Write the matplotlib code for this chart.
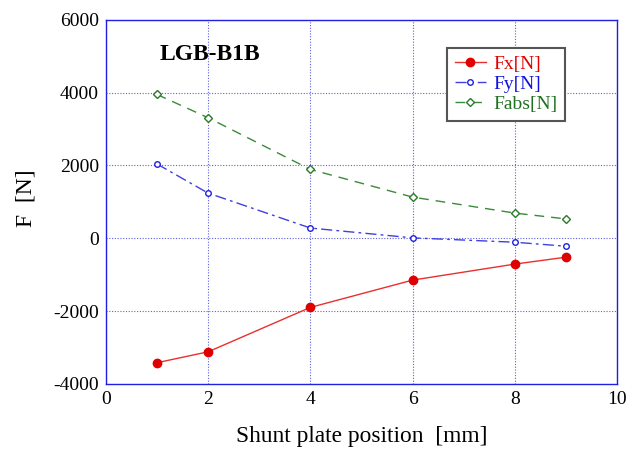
import matplotlib
matplotlib.use("Agg")
import matplotlib.pyplot as plt

x = [1, 2, 4, 6, 8, 9]
fx = [-3420, -3120, -1900, -1150, -710, -520]
fy = [2040, 1240, 280, 10, -110, -220]
fabs = [3950, 3310, 1890, 1130, 690, 530]

xticks = [0, 2, 4, 6, 8, 10]
yticks = [-4000, -2000, 0, 2000, 4000, 6000]

plt.rcParams['font.family'] = ['Liberation Serif', 'DejaVu Serif']
plt.rcParams['axes.unicode_minus'] = False

fig = plt.figure(figsize=(6.26, 4.5), dpi=100)
ax = fig.add_axes([0.169, 0.147, 0.817, 0.809])

ax.plot(x, fx, '-', color='#e83030', lw=1.0, marker='o', ms=6,
        mfc='#e00000', mec='#e00000', label='Fx[N]')
ax.plot(x, fy, '-.', color='#4040e0', lw=1.0, marker='o', ms=4,
        mfc='white', mec='#2020e0', mew=1.0, label='Fy[N]', dashes=(8, 3, 2, 3))
ax.plot(x, fabs, '--', color='#3a8a3a', lw=1.0, marker='D', ms=4,
        mfc='white', mec='#2a7a2a', mew=1.0, label='Fabs[N]', dashes=(7, 5))

ax.set_xlim(0, 10)
ax.set_ylim(-4000, 6000)
ax.set_xticks(xticks)
ax.set_yticks(yticks)
ax.tick_params(length=0, labelsize=14, pad=5)
ax.grid(True, color='#6060e0', linestyle=(0, (1, 1.5)), lw=0.8)
for s in ax.spines.values():
    s.set_color('#2020e0')
    s.set_linewidth(1.0)

ax.set_xlabel('Shunt plate position  [mm]', fontsize=16.8, labelpad=13)
ax.set_ylabel('F  [N]', fontsize=17, labelpad=12)
ax.yaxis.label.set_y(0.51)
ax.text(1.05, 5050, 'LGB-B1B', fontsize=17, fontweight='bold', va='center')

leg = ax.legend(loc='upper left', bbox_to_anchor=(0.667, 0.923), fontsize=14,
                fancybox=False, framealpha=1, edgecolor='#555555', borderaxespad=0,
                handlelength=1.6, borderpad=0.4, labelspacing=0.12, handletextpad=0.4)
leg.get_frame().set_linewidth(1.5)
for t, c in zip(leg.get_texts(), ['#e00000', '#1010e0', '#207020']):
    t.set_color(c)

fig.savefig('out.png', dpi=100)
